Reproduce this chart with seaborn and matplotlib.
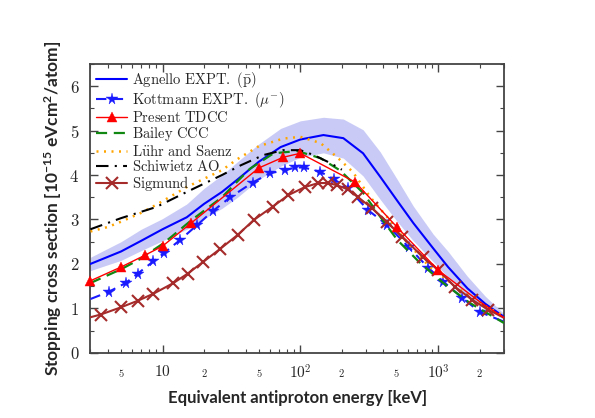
import matplotlib
matplotlib.use("Agg")
import matplotlib.pyplot as plt
import matplotlib.ticker as mticker
import numpy as np
import pandas as pd
import seaborn as sns

# ---- data (energy in keV, S in 1e-15 eV cm^2/atom) ----
agnello_e = [3, 5, 7, 10, 15, 20, 27, 35, 50, 72, 100, 147, 205, 285, 380, 505, 660, 920, 1180, 1630, 2200, 3000]
agnello_s = [2.0, 2.28, 2.52, 2.78, 3.05, 3.35, 3.62, 3.9, 4.3, 4.63, 4.8, 4.9, 4.83, 4.49, 3.96, 3.42, 2.92, 2.35, 1.93, 1.45, 1.1, 0.81]
agnello_hi = [2.15, 2.5, 2.78, 3.02, 3.35, 3.7, 4.0, 4.3, 4.7, 5.05, 5.22, 5.3, 5.26, 5.02, 4.52, 3.9, 3.3, 2.67, 2.28, 1.72, 1.27, 0.88]
agnello_lo = [1.85, 2.08, 2.3, 2.52, 2.78, 3.02, 3.25, 3.5, 3.9, 4.2, 4.4, 4.5, 4.38, 3.98, 3.45, 2.95, 2.52, 2.05, 1.7, 1.28, 1.0, 0.75]

kottmann_e = [3, 4.06, 5.4, 6.6, 8.6, 10.2, 13.3, 17.9, 23.4, 31, 45, 60, 78, 92, 106, 140, 174, 220, 310, 425, 610, 850, 1090, 1490, 2000, 3000]
kottmann_s = [1.21, 1.37, 1.57, 1.78, 2.06, 2.24, 2.53, 2.88, 3.2, 3.5, 3.83, 4.04, 4.11, 4.17, 4.17, 4.07, 3.91, 3.71, 3.21, 2.88, 2.38, 1.91, 1.6, 1.24, 0.92, 0.7]

tdcc_e = [3, 5, 7.5, 10, 16, 50, 75, 100, 250, 505, 1000, 2000, 3000]
tdcc_s = [1.62, 1.93, 2.2, 2.4, 2.91, 4.16, 4.4, 4.49, 3.84, 2.82, 1.86, 1.15, 0.79]

bailey_e = [3, 5, 6.7, 10, 11.6, 16, 27, 35, 43, 64, 95, 140, 195, 285, 380, 505, 740, 1090, 1700, 3000]
bailey_s = [1.57, 1.88, 2.09, 2.45, 2.61, 2.97, 3.5, 3.86, 4.14, 4.49, 4.54, 4.38, 4.1, 3.6, 3.06, 2.54, 2.02, 1.57, 1.12, 0.67]

luhr_e = [3, 4, 5, 7, 9, 15, 27, 35, 50, 75, 100, 140, 185, 240, 320, 425, 600, 870, 1440, 2250, 3000]
luhr_s = [2.73, 2.83, 2.95, 3.15, 3.33, 3.73, 4.11, 4.36, 4.65, 4.82, 4.86, 4.72, 4.4, 4.07, 3.51, 3.06, 2.47, 1.93, 1.42, 1.03, 0.83]

schiwietz_e = [3, 5, 9, 15, 27, 37, 54, 75, 100, 125, 165, 200]
schiwietz_s = [2.78, 3.03, 3.28, 3.62, 4.0, 4.22, 4.45, 4.56, 4.56, 4.45, 4.27, 4.12]

sigmund_e = [3, 3.55, 4.96, 6.6, 8.6, 12, 15.2, 19.8, 26, 35, 46, 63, 82, 108, 135, 160, 185, 220, 262, 330, 425, 550, 770, 1000, 1330, 1770, 2300, 3000]
sigmund_s = [0.8, 0.86, 1.02, 1.17, 1.33, 1.57, 1.78, 2.05, 2.33, 2.65, 2.99, 3.29, 3.55, 3.73, 3.82, 3.82, 3.77, 3.68, 3.5, 3.26, 2.94, 2.61, 2.16, 1.86, 1.48, 1.19, 0.97, 0.79]

xmajor = [10, 100, 1000]
xmajor_labels = [r'$10$', r'$10^2$', r'$10^3$']
xminor_labelled = {5: r'$5$', 20: r'$2$', 50: r'$5$', 200: r'$2$', 500: r'$5$', 2000: r'$2$'}

sns.set_style("ticks")
plt.rcParams['mathtext.fontset'] = 'cm'
plt.rcParams['mathtext.rm'] = 'Lato'
plt.rcParams['mathtext.bf'] = 'Lato:bold'
plt.rcParams['font.family'] = ['Lato', 'DejaVu Sans']

fig = plt.figure(figsize=(5.95, 4.18), dpi=100)
ax = fig.add_axes([0.152, 0.156, 0.695, 0.691])
ax.set_xscale('log')

ax.fill_between(agnello_e, agnello_lo, agnello_hi, color='#c9cbf6', lw=0, zorder=1)

sns.lineplot(x=agnello_e, y=agnello_s, ax=ax, color='#0000ff', lw=1.5,
             label=r'$\mathrm{Agnello\ EXPT.\ (\bar{p})}$', zorder=3)
sns.lineplot(x=kottmann_e, y=kottmann_s, ax=ax, color='#1a1aff', lw=1.5,
             linestyle=(0, (5, 3)), marker='*', markersize=8.5,
             markeredgecolor='#1a1aff', markeredgewidth=0.3,
             markevery=list(range(1, len(kottmann_e) - 1)),
             label=r'$\mathrm{Kottmann\ EXPT.\ (}\mu^{-}\mathrm{)}$', zorder=3)
sns.lineplot(x=tdcc_e, y=tdcc_s, ax=ax, color='#ff0000', lw=1.0,
             marker='^', markersize=7.5, markeredgecolor='#ff0000', markeredgewidth=0.3,
             markevery=list(range(0, len(tdcc_e) - 2)), clip_on=False,
             label=r'$\mathrm{Present\ TDCC}$', zorder=4)
sns.lineplot(x=bailey_e, y=bailey_s, ax=ax, color='#118811', lw=1.6,
             linestyle=(0, (5, 3)), label=r'$\mathrm{Bailey\ CCC}$', zorder=3)
sns.lineplot(x=luhr_e, y=luhr_s, ax=ax, color='#ffa500', lw=1.8,
             linestyle=(0, (0.8, 2.2)), label=r'$\mathrm{L\ddot{u}hr\ and\ Saenz}$', zorder=3)
sns.lineplot(x=schiwietz_e, y=schiwietz_s, ax=ax, color='black', lw=1.5,
             linestyle=(0, (6, 3, 1, 3)), label=r'$\mathrm{Schiwietz\ AO}$', zorder=3)
sns.lineplot(x=sigmund_e, y=sigmund_s, ax=ax, color='#a52a2a', lw=1.5,
             marker='x', markersize=8, markeredgecolor='#a52a2a', markeredgewidth=1.5,
             markevery=list(range(1, len(sigmund_e) - 1)),
             label=r'$\mathrm{Sigmund}$', zorder=3)

ax.set_xlim(3, 3000)
ax.set_ylim(0, 6.5)

ax.xaxis.set_major_locator(mticker.FixedLocator(xmajor))
ax.xaxis.set_major_formatter(mticker.FixedFormatter(xmajor_labels))
minor_pos = [m * 10 ** k for k in range(0, 4) for m in range(2, 10) if 3 <= m * 10 ** k <= 3000]
ax.xaxis.set_minor_locator(mticker.FixedLocator(minor_pos))
ax.xaxis.set_minor_formatter(mticker.FixedFormatter([xminor_labelled.get(p, '') for p in minor_pos]))

ax.yaxis.set_major_locator(mticker.MultipleLocator(1))
ax.yaxis.set_minor_locator(mticker.MultipleLocator(0.5))
ax.yaxis.set_major_formatter(mticker.FuncFormatter(lambda v, p: r'$%d$' % v))

ax.tick_params(which='both', direction='in', top=True, right=True, color='#444444')
ax.tick_params(which='major', length=6, width=1.0)
ax.tick_params(which='minor', length=3, width=0.8)
ax.tick_params(axis='x', which='major', labelsize=11, pad=8)
ax.tick_params(axis='x', which='minor', labelsize=7.5, pad=10)
ax.tick_params(axis='y', which='major', labelsize=12, pad=8)
for s in ax.spines.values():
    s.set_color('#444444')
    s.set_linewidth(1.3)

ax.set_xlabel('Equivalent antiproton energy [keV]', fontsize=12, fontweight='bold', labelpad=6)
ax.set_ylabel(r'Stopping cross section [$\mathbf{10^{-15}}$ eVcm$\mathbf{^2}$/atom]',
              fontsize=12.5, fontweight='bold', math_fontfamily='custom', labelpad=4)

ax.legend(loc='upper left', frameon=False, fontsize=10.5, handlelength=2.1,
          handletextpad=0.35, labelspacing=0.0, borderaxespad=0.0, borderpad=0.4)

fig.savefig('out.png', dpi=100)
